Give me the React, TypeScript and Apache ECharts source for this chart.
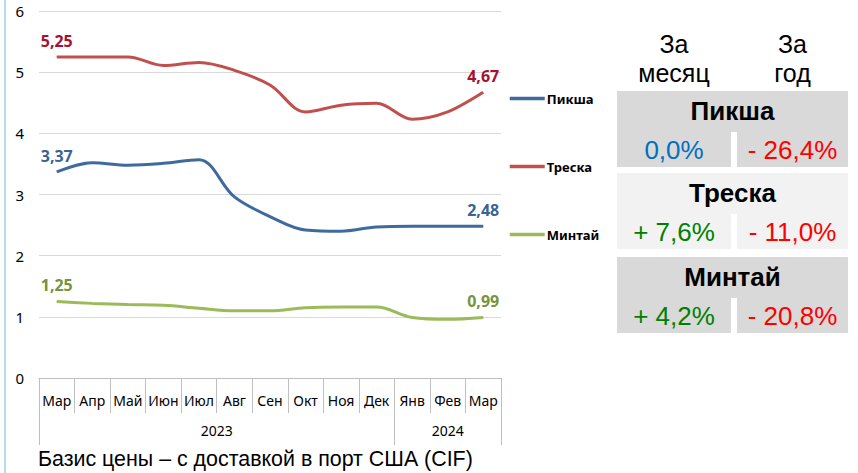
import React, { useEffect, useRef } from "react";
import * as echarts from "echarts";

const months = ["Мар", "Апр", "Май", "Июн", "Июл", "Авг", "Сен", "Окт", "Ноя", "Дек", "Янв", "Фев", "Мар"];
const years = ["2023", "2024"];
const yearMonthCounts = [10, 3];

const haddock = [3.37, 3.52, 3.48, 3.51, 3.57, 2.96, 2.64, 2.42, 2.4, 2.47, 2.48, 2.48, 2.48];
const cod = [5.25, 5.25, 5.25, 5.11, 5.16, 5.03, 4.79, 4.35, 4.46, 4.49, 4.23, 4.35, 4.67];
const pollock = [1.25, 1.22, 1.2, 1.19, 1.14, 1.1, 1.1, 1.15, 1.16, 1.16, 0.99, 0.96, 0.99];

const seriesNames = ["Пикша", "Треска", "Минтай"];
const tableHeaders = ["За\nмесяц", "За\nгод"];
const monthChange = ["0,0%", "+ 7,6%", "+ 4,2%"];
const yearChange = ["- 26,4%", "- 11,0%", "- 20,8%"];
const footnote = "Базис цены – с доставкой в порт США (CIF)";

const lineColors = ["#3F6A9E", "#C0504D", "#9BBB59"];
const labelColors = ["#3B6397", "#A8102E", "#77933C"];

function changeColor(s: string) {
  if (s.trim().startsWith("+")) return "#008000";
  if (s.trim().startsWith("-")) return "#FF0000";
  return "#0070C0";
}

export default function App() {
  const ref = useRef<HTMLDivElement>(null);
  useEffect(() => {
    if (!ref.current) return;
    const chart = echarts.init(ref.current, null, { renderer: "svg" });
    const last = months.length - 1;
    const mk = (name: string, data: number[], i: number) => ({
      name,
      type: "line",
      data,
      smooth: 0.35,
      symbol: "circle",
      symbolSize: 0.5,
      showSymbol: true,
      lineStyle: { color: lineColors[i], width: 3 },
      itemStyle: { color: lineColors[i] },
      label: {
        show: true,
        position: "top",
        distance: 8,
        color: labelColors[i],
        fontFamily: "Noto Sans",
        fontWeight: "bold",
        fontSize: 16,
        formatter: (p: any) =>
          p.dataIndex === 0 || p.dataIndex === last ? p.value.toFixed(2).replace(".", ",") : "",
      },
    });

    const bounds: number[] = [0];
    const centers: number[] = [];
    let acc = 0;
    yearMonthCounts.forEach((c) => {
      centers.push(acc + c / 2);
      acc += c;
      bounds.push(acc);
    });

    const graphics: any[] = [
      { type: "line", shape: { x1: 5, y1: 0, x2: 5, y2: 473 }, style: { stroke: "#B4DDEA", lineWidth: 2 } },
      {
        type: "text",
        x: 38,
        y: 459,
        style: { text: footnote, font: "21.4px 'Liberation Sans'", fill: "#000", verticalAlign: "middle" },
      },
    ];
    const tx0 = 617, tx1 = 848, tmid0 = 731, tmid1 = 737;
    const colC = [(tx0 + tmid0) / 2, (tmid1 + tx1) / 2];
    tableHeaders.forEach((h, i) => {
      graphics.push({
        type: "text",
        x: colC[i],
        y: 58,
        style: { text: h, font: "25px 'Liberation Sans'", fill: "#000", align: "center", verticalAlign: "middle", lineHeight: 29 },
      });
    });
    const blockTops = [91, 173, 257];
    const blockH = 76;
    const bgs = ["#D9D9D9", "#F2F2F2", "#D9D9D9"];
    seriesNames.forEach((n, i) => {
      const t = blockTops[i];
      graphics.push({ type: "rect", shape: { x: tx0, y: t, width: tx1 - tx0, height: blockH }, style: { fill: bgs[i] } });
      graphics.push({ type: "rect", shape: { x: tmid0, y: t + 41, width: tmid1 - tmid0, height: blockH - 41 }, style: { fill: "#fff" } });
      graphics.push({
        type: "text",
        x: (tx0 + tx1) / 2,
        y: t + 20,
        style: { text: n, font: "bold 26px 'Liberation Sans'", fill: "#000", align: "center", verticalAlign: "middle" },
      });
      graphics.push({
        type: "text",
        x: colC[0],
        y: t + 59,
        style: { text: monthChange[i], font: "26px 'Liberation Sans'", fill: changeColor(monthChange[i]), align: "center", verticalAlign: "middle" },
      });
      graphics.push({
        type: "text",
        x: colC[1],
        y: t + 59,
        style: { text: yearChange[i], font: "26px 'Liberation Sans'", fill: changeColor(yearChange[i]), align: "center", verticalAlign: "middle" },
      });
    });

    chart.setOption({
      animation: false,
      grid: { left: 39, right: 357, top: 11, bottom: 95, containLabel: false },
      legend: {
        orient: "vertical",
        left: 508,
        top: 92,
        padding: 0,
        itemGap: 55,
        itemWidth: 35,
        itemHeight: 14,
        data: seriesNames,
        lineStyle: { width: 3.5 },
        itemStyle: { color: "rgba(0,0,0,0)", borderWidth: 0 },
        textStyle: { color: "#000", fontWeight: "bold", fontSize: 13, fontFamily: "Noto Sans", padding: [0, 0, 0, -3] },
      },
      xAxis: [
        {
          type: "category",
          data: months,
          boundaryGap: true,
          axisLine: { lineStyle: { color: "#BFBFBF" } },
          axisTick: { show: true, interval: 0, length: 35, lineStyle: { color: "#BFBFBF" } },
          axisLabel: { interval: 0, margin: 15, color: "#000", fontSize: 14, fontFamily: "Noto Sans" },
        },
        {
          type: "value",
          min: 0,
          max: months.length,
          position: "bottom",
          offset: 35,
          axisLine: { show: false },
          splitLine: { show: false },
          axisTick: { show: true, customValues: bounds, length: 32, lineStyle: { color: "#BFBFBF" } },
          axisLabel: {
            customValues: centers,
            margin: 10,
            color: "#000",
            fontSize: 14,
            fontFamily: "Noto Sans",
            formatter: (v: number) => {
              const idx = centers.findIndex((c) => Math.abs(c - v) < 1e-6);
              return idx >= 0 ? years[idx] : "";
            },
          },
        },
      ],
      yAxis: {
        type: "value",
        min: 0,
        max: 6,
        interval: 1,
        axisLine: { show: false },
        axisTick: { show: false },
        axisLabel: { margin: 15, color: "#000", fontSize: 15, fontFamily: "Noto Sans" },
        splitLine: { lineStyle: { color: "#D9D9D9", width: 1 } },
      },
      series: [mk(seriesNames[0], haddock, 0), mk(seriesNames[1], cod, 1), mk(seriesNames[2], pollock, 2)],
      graphic: graphics,
    });
    return () => chart.dispose();
  }, []);
  return <div ref={ref} style={{ position: "fixed", left: 0, top: 0, width: 858, height: 473, background: "#fff" }} />;
}
